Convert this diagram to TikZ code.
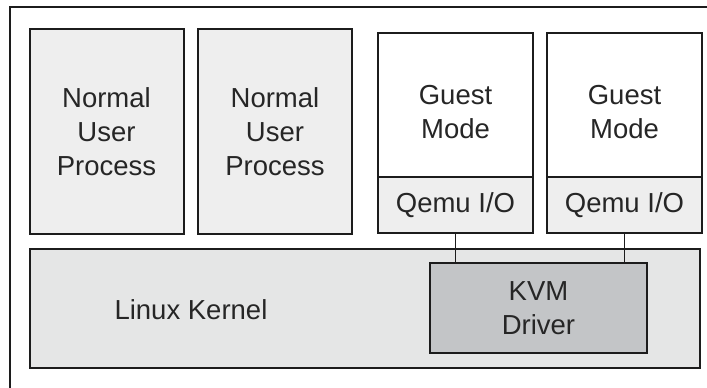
\documentclass[tikz,border=0pt]{standalone}
\usepackage{fontspec}
\setmainfont{Liberation Sans}
\definecolor{procgray}{HTML}{EEEEEE}
\definecolor{kernelgray}{HTML}{E5E6E6}
\definecolor{kvmgray}{HTML}{C3C5C7}
\definecolor{edgeblack}{HTML}{1C1C1C}
\begin{document}
\begin{tikzpicture}[x=1pt,y=-1pt,
    boxtext/.style={align=center,text=black!85,font=\fontsize{27.5}{34}\selectfont},
    box/.style={boxtext,draw=edgeblack,line width=2pt,inner sep=0pt},
    procbox/.style={box,fill=procgray,minimum width=154,minimum height=205},
    guestbox/.style={box,fill=white,minimum width=155,minimum height=144},
    qemubox/.style={box,fill=procgray,minimum width=155,minimum height=56}]
    \useasboundingbox (0,0) rectangle (707,388);
    % outer frame, cut off at the right and bottom
    \draw[edgeblack,line width=2pt] (10,388)--(10,7)--(707,7);
    % user space
    \foreach \i/\x in {1/106.5,2/275}{
        \node[procbox] (proc\i) at (\x,131.5) {};
        \node[boxtext] (proclabel\i) at (proc\i.center) {Normal\\User\\Process};
    }
    \foreach \i/\x in {1/455.5,2/624.5}{
        \node[guestbox] (guest\i) at (\x,105) {};
        \node[boxtext] (guestlabel\i) at (\x,112) {Guest\\Mode};
        \node[qemubox] (qemu\i) at (\x,205) {Qemu I/O};
    }
    % kernel
    \node[box,fill=kernelgray,minimum width=670,minimum height=119] (kernel) at (365,308.5) {};
    \node[boxtext] (kernellabel) at (191,309.5) {Linux Kernel};
    \node[box,fill=kvmgray,minimum width=217,minimum height=90] (kvm) at (538.5,308) {KVM\\Driver};
    \foreach \i in {1,2}{
        \draw[edgeblack,line width=1.8pt] (qemu\i.south)--(qemu\i.south |- kvm.north);
    }
\end{tikzpicture}
\end{document}
